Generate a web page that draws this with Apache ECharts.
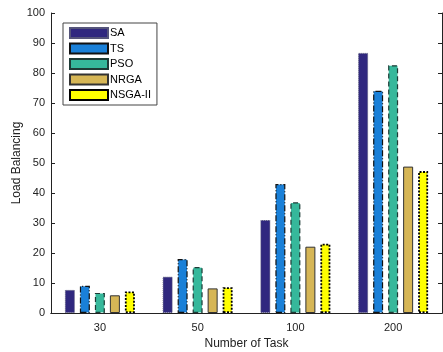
<!DOCTYPE html>
<html><head><meta charset="utf-8">
<script src="https://cdn.jsdelivr.net/npm/echarts@6/dist/echarts.min.js"></script>
<style>html,body{margin:0;padding:0;background:#fff}#c{width:443px;height:352px}</style>
</head><body><div id="c"></div>
<script>
const categories = ['30', '50', '100', '200'];
const seriesNames = ['SA', 'TS', 'PSO', 'NRGA', 'NSGA-II'];
const SA = [7.7, 12.1, 31.0, 86.7];
const TS = [9.1, 18.0, 43.0, 74.1];
const PSO = [6.7, 15.3, 36.9, 82.6];
const NRGA = [5.9, 8.2, 22.1, 48.8];
const NSGA2 = [7.2, 8.6, 23.1, 47.3];
const yTicks = [0, 10, 20, 30, 40, 50, 60, 70, 80, 90, 100];

const values = [SA, TS, PSO, NRGA, NSGA2];
const fills = ['#30287f', '#1a80d8', '#36b89b', '#d6b656', '#ffff00'];
const borders = [
  {color: '#55557a', type: 'dotted', width: 1},
  {color: '#111111', type: [6, 2, 1, 2], width: 1.2},
  {color: '#1e3b36', type: [5, 3], width: 1.2},
  {color: '#333333', type: 'solid', width: 1},
  {color: '#000000', type: [2, 1.5], width: 1.8}
];
const font = 'Liberation Sans, Arial, sans-serif';
const chart = echarts.init(document.getElementById('c'), null, {renderer: 'canvas'});
const series = seriesNames.map((n, i) => ({
  name: n, type: 'bar', data: values[i], barWidth: 10, barGap: '50%',
  itemStyle: {color: fills[i], borderColor: borders[i].color, borderType: borders[i].type, borderWidth: borders[i].width}
}));
chart.setOption({
  animation: false,
  textStyle: {fontFamily: font},
  grid: {left: 51, top: 13, width: 391, height: 300, containLabel: false, outerBoundsMode: 'none'},
  legend: {
    orient: 'vertical', left: 63, top: 23, width: 92,
    data: seriesNames, itemWidth: 38, itemHeight: 10, itemGap: 3.5, icon: 'rect',
    backgroundColor: '#fff', borderColor: '#444', borderWidth: 1,
    padding: [4, 6, 4, 6],
    textStyle: {fontSize: 11, color: '#000', fontFamily: font, padding: [0, 0, 0, -3]}
  },
  xAxis: [{
    type: 'category', data: categories, position: 'bottom',
    name: 'Number of Task', nameLocation: 'middle', nameGap: 25, nameMoveOverlap: false,
    nameTextStyle: {fontSize: 12, color: '#222', fontFamily: font},
    axisLine: {lineStyle: {color: '#222', width: 1}},
    axisTick: {alignWithLabel: true, inside: true, length: 4, lineStyle: {color: '#222'}},
    axisLabel: {fontSize: 11, color: '#222', margin: 9},
    splitLine: {show: false}
  }, {
    type: 'category', data: categories, position: 'top',
    axisLine: {lineStyle: {color: '#222', width: 1}},
    axisTick: {alignWithLabel: true, inside: true, length: 4, lineStyle: {color: '#222'}},
    axisLabel: {show: false}, splitLine: {show: false}
  }],
  yAxis: [{
    type: 'value', min: 0, max: 100, interval: 10, position: 'left',
    name: 'Load Balancing', nameLocation: 'middle', nameGap: 28, nameMoveOverlap: false,
    nameTextStyle: {fontSize: 12, color: '#222', fontFamily: font},
    axisLine: {show: true, lineStyle: {color: '#222', width: 1}},
    axisTick: {show: true, inside: true, length: 4, lineStyle: {color: '#222'}},
    axisLabel: {fontSize: 11, color: '#222', margin: 6, formatter: v => yTicks.includes(v) ? String(v) : ''},
    splitLine: {show: false}
  }, {
    type: 'value', min: 0, max: 100, interval: 10, position: 'right',
    axisLine: {show: true, lineStyle: {color: '#222', width: 1}},
    axisTick: {show: true, inside: true, length: 4, lineStyle: {color: '#222'}},
    axisLabel: {show: false}, splitLine: {show: false}
  }],
  series: series
});
</script></body></html>
